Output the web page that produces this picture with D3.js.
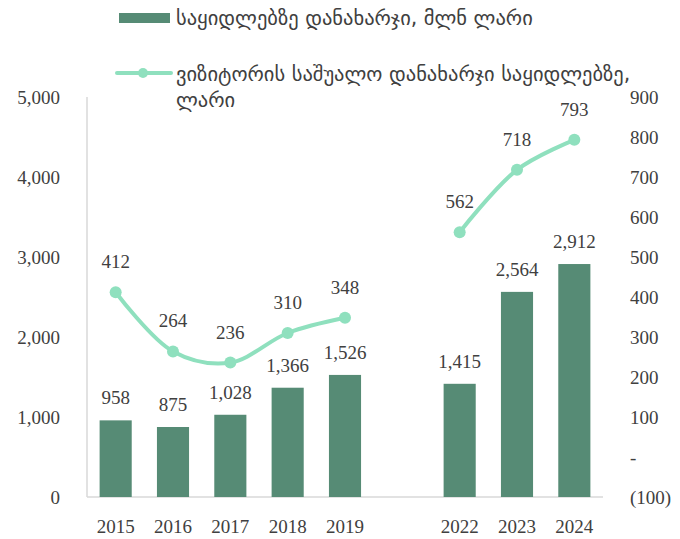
<!DOCTYPE html>
<html>
<head>
<meta charset="utf-8">
<script src="https://cdn.jsdelivr.net/npm/d3@7"></script>
<style>
  body { margin: 0; background: #fff; }
  svg text { fill: #404040; }
  .num { font-family: "Liberation Serif", "DejaVu Serif", serif; font-size: 19px; }
  .geo { font-family: "DejaVu Sans", sans-serif; font-size: 20.5px; }
</style>
</head>
<body>
<div id="chart"></div>
<script>
// data
const years = ['2015', '2016', '2017', '2018', '2019', '', '2022', '2023', '2024'];
const spending = [958, 875, 1028, 1366, 1526, null, 1415, 2564, 2912];
const perVisitor = [412, 264, 236, 310, 348, null, 562, 718, 793];
const leftTicks = [0, 1000, 2000, 3000, 4000, 5000];
const rightTicks = [-100, 0, 100, 200, 300, 400, 500, 600, 700, 800, 900];
const legendBar = 'საყიდლებზე დანახარჯი, მლნ ლარი';
const legendLine = ['ვიზიტორის საშუალო დანახარჯი საყიდლებზე,', 'ლარი'];

const BAR_COL = '#568b75', LINE_COL = '#8fe0be';
const width = 680, height = 539;
const plot = { left: 87, right: 603, top: 97, bottom: 497 };

const svg = d3.select('#chart').append('svg')
  .attr('width', width).attr('height', height);

const x = d3.scaleBand().domain(d3.range(years.length))
  .range([plot.left, plot.right]).paddingInner(0.44).paddingOuter(0.22);
const yL = d3.scaleLinear().domain([0, 5000]).range([plot.bottom, plot.top]);
const yR = d3.scaleLinear().domain([-100, 900]).range([plot.bottom, plot.top]);

// axis lines
svg.append('line')
  .attr('x1', plot.left).attr('x2', plot.left)
  .attr('y1', plot.top).attr('y2', plot.bottom)
  .attr('stroke', '#d9d9d9').attr('stroke-width', 1.5);
svg.append('line')
  .attr('x1', plot.left).attr('x2', plot.right)
  .attr('y1', plot.bottom).attr('y2', plot.bottom)
  .attr('stroke', '#d9d9d9').attr('stroke-width', 1.5);

// left ticks
svg.selectAll('.lt').data(leftTicks).enter().append('text')
  .attr('class', 'num')
  .attr('x', 60).attr('y', d => yL(d) + 7)
  .attr('text-anchor', 'end')
  .text(d => d3.format(',')(d));

// right ticks
svg.selectAll('.rt').data(rightTicks).enter().append('text')
  .attr('class', 'num')
  .attr('x', 630).attr('y', d => yR(d) + 7)
  .text(d => d < 0 ? '(' + Math.abs(d) + ')' : d === 0 ? '-' : d);

// x labels
svg.selectAll('.xl').data(years).enter().append('text')
  .attr('class', 'num')
  .attr('x', (d, i) => x(i) + x.bandwidth() / 2).attr('y', 533)
  .attr('text-anchor', 'middle')
  .text(d => d);

// bars
const barIdx = d3.range(years.length).filter(i => spending[i] != null);
svg.selectAll('.bar').data(barIdx).enter().append('rect')
  .attr('x', i => x(i)).attr('width', x.bandwidth())
  .attr('y', i => yL(spending[i]))
  .attr('height', i => yL(0) - yL(spending[i]))
  .attr('fill', BAR_COL);

svg.selectAll('.bl').data(barIdx).enter().append('text')
  .attr('class', 'num')
  .attr('x', i => x(i) + x.bandwidth() / 2)
  .attr('y', i => yL(spending[i]) - 16)
  .attr('text-anchor', 'middle')
  .text(i => d3.format(',')(spending[i]));

// line
const line = d3.line()
  .defined(i => perVisitor[i] != null)
  .x(i => x(i) + x.bandwidth() / 2)
  .y(i => yR(perVisitor[i]))
  .curve(d3.curveCatmullRom.alpha(0.5));

svg.append('path')
  .datum(d3.range(years.length))
  .attr('d', line)
  .attr('fill', 'none')
  .attr('stroke', LINE_COL).attr('stroke-width', 4)
  .attr('stroke-linecap', 'round');

const ptIdx = d3.range(years.length).filter(i => perVisitor[i] != null);
svg.selectAll('.pt').data(ptIdx).enter().append('circle')
  .attr('cx', i => x(i) + x.bandwidth() / 2)
  .attr('cy', i => yR(perVisitor[i]))
  .attr('r', 6)
  .attr('fill', LINE_COL);

svg.selectAll('.pl').data(ptIdx).enter().append('text')
  .attr('class', 'num')
  .attr('x', i => x(i) + x.bandwidth() / 2)
  .attr('y', i => yR(perVisitor[i]) - 24)
  .attr('text-anchor', 'middle')
  .text(i => perVisitor[i]);

// legend
svg.append('rect')
  .attr('x', 119).attr('y', 13).attr('width', 51).attr('height', 10)
  .attr('fill', BAR_COL);
svg.append('text').attr('class', 'geo')
  .attr('x', 176).attr('y', 25).text(legendBar);

svg.append('line')
  .attr('x1', 117).attr('x2', 171).attr('y1', 73).attr('y2', 73)
  .attr('stroke', LINE_COL).attr('stroke-width', 4).attr('stroke-linecap', 'round');
svg.append('circle').attr('cx', 143).attr('cy', 73).attr('r', 5)
  .attr('fill', LINE_COL);
svg.selectAll('.ll').data(legendLine).enter().append('text')
  .attr('class', 'geo')
  .attr('x', 176).attr('y', (d, i) => 81 + i * 26)
  .text(d => d);
</script>
</body>
</html>
